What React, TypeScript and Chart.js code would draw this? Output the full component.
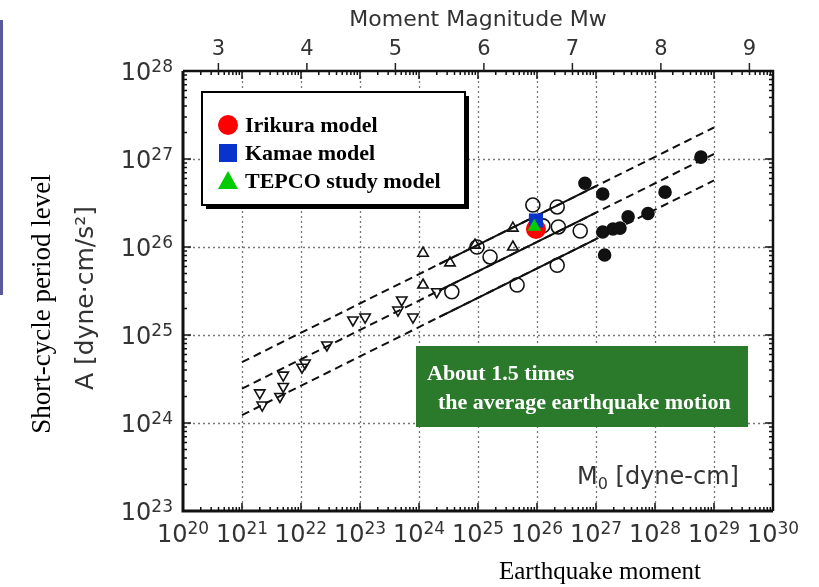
import React, { useEffect, useRef } from "react";
import { Chart, registerables } from "chart.js";

Chart.register(...registerables);

// ---- axis definitions ----
const X_EXPONENTS = [20, 21, 22, 23, 24, 25, 26, 27, 28, 29, 30];
const Y_EXPONENTS = [23, 24, 25, 26, 27, 28];
const MW_TICKS = [3, 4, 5, 6, 7, 8, 9];

// ---- data: [M0 (dyne-cm), A (dyne-cm/s^2)] ----
const downTriangles = [
  [2.0e21, 2.2e24], [2.2e21, 1.6e24], [5.0e21, 3.5e24], [5.0e21, 2.6e24],
  [4.4e21, 2.0e24], [1.04e22, 4.3e24], [1.17e22, 4.8e24], [2.75e22, 7.7e24],
  [7.6e22, 1.48e25], [1.22e23, 1.6e25], [5.1e23, 2.5e25], [4.4e23, 1.92e25],
  [7.9e23, 1.6e25], [2.0e24, 3.1e25],
];
const upTriangles = [
  [1.17e24, 8.5e25], [3.35e24, 6.6e25], [1.17e24, 3.7e25], [8.9e24, 1.05e26],
  [3.9e25, 1.0e26], [3.9e25, 1.64e26],
];
const openCircles = [
  [9.6e24, 1.0e26], [1.6e25, 7.7e25], [3.6e24, 3.1e25], [8.5e25, 3.0e26],
  [2.2e26, 2.85e26], [2.3e26, 1.69e26], [5.4e26, 1.52e26], [2.2e26, 6.2e25],
  [4.6e25, 3.7e25], [1.26e26, 1.74e26],
];
const filledCircles = [
  [6.5e26, 5.3e26], [1.3e27, 4.0e26], [1.3e27, 1.48e26], [1.94e27, 1.6e26],
  [2.55e27, 1.64e26], [3.5e27, 2.2e26], [7.6e27, 2.4e26], [1.48e28, 4.2e26],
  [6.0e28, 1.05e27], [1.4e27, 8.1e25],
];
const irikura = [[9.6e25, 1.6e26]];
const kamae = [[9.6e25, 2.0e26]];
const tepco = [[9.0e25, 1.7e26]];

// reference relation lines (end points)
const meanLine = [[1e21, 2.46e24], [1e29, 1.14e27]];
const upperLine = [[1e21, 4.92e24], [1e29, 2.28e27]];
const lowerLine = [[1e21, 1.23e24], [1e29, 5.71e26]];
const meanSolid = [[2.2e24, 3.2e25], [1e27, 2.46e26]];
const upperSolid = [[2.2e24, 6.4e25], [1e27, 4.92e26]];
const lowerSolid = [[2.2e24, 1.6e25], [1e27, 1.23e26]];

const LEGEND_ITEMS = ["Irikura model", "Kamae model", "TEPCO study model"];
const NOTE_LINES = ["About 1.5 times", "the average earthquake motion"];

const toXY = (arr: number[][]) => arr.map(([x, y]) => ({ x, y }));

const SANS = '"DejaVu Sans", sans-serif';
const SERIF = '"Liberation Serif", "Times New Roman", serif';
const AXIS_COLOR = "#333";

function drawPow(ctx: CanvasRenderingContext2D, exp: number, x: number, y: number, align: string) {
  const baseFont = `24px ${SANS}`;
  const expFont = `17px ${SANS}`;
  ctx.font = baseFont;
  const w1 = ctx.measureText("10").width;
  ctx.font = expFont;
  const w2 = ctx.measureText(String(exp)).width;
  const total = w1 + w2;
  const left = align === "center" ? x - total / 2 : x - total;
  ctx.textAlign = "left";
  ctx.textBaseline = "middle";
  ctx.font = baseFont;
  ctx.fillText("10", left, y);
  ctx.font = expFont;
  ctx.fillText(String(exp), left + w1, y - 6);
}

const decorPlugin = {
  id: "decor",
  beforeDatasetsDraw(chart: any) {
    const { ctx, chartArea: a, scales } = chart;
    const xs = scales.x;
    const ys = scales.y;
    ctx.save();
    ctx.strokeStyle = "#777";
    ctx.lineWidth = 1.3;
    ctx.setLineDash([2, 3]);
    for (const e of X_EXPONENTS.slice(1, -1)) {
      const px = Math.round(xs.getPixelForValue(Math.pow(10, e))) + 0.5;
      ctx.beginPath();
      ctx.moveTo(px, a.top);
      ctx.lineTo(px, a.bottom);
      ctx.stroke();
    }
    for (const e of Y_EXPONENTS.slice(1, -1)) {
      const py = Math.round(ys.getPixelForValue(Math.pow(10, e))) + 0.5;
      ctx.beginPath();
      ctx.moveTo(a.left, py);
      ctx.lineTo(a.right, py);
      ctx.stroke();
    }
    ctx.restore();
  },
  afterDraw(chart: any) {
    const { ctx, chartArea: a, scales } = chart;
    const xs = scales.x;
    const ys = scales.y;
    ctx.save();
    ctx.setLineDash([]);

    // frame
    ctx.strokeStyle = "#111";
    ctx.lineWidth = 3;
    ctx.beginPath();
    ctx.moveTo(a.left, a.top);
    ctx.lineTo(a.left, a.bottom);
    ctx.lineTo(a.right, a.bottom);
    ctx.stroke();
    ctx.lineWidth = 2.5;
    ctx.beginPath();
    ctx.moveTo(a.left, a.top);
    ctx.lineTo(a.right, a.top);
    ctx.lineTo(a.right, a.bottom);
    ctx.stroke();

    // minor / major ticks (inward)
    ctx.lineWidth = 1.5;
    for (let i = 0; i < X_EXPONENTS.length - 1; i++) {
      const e = X_EXPONENTS[i];
      for (let k = 1; k <= 9; k++) {
        const px = xs.getPixelForValue(k * Math.pow(10, e));
        const len = k === 1 ? 8 : 4;
        ctx.beginPath();
        ctx.moveTo(px, a.bottom);
        ctx.lineTo(px, a.bottom - len);
        ctx.moveTo(px, a.top);
        ctx.lineTo(px, a.top + len);
        ctx.stroke();
      }
    }
    for (let i = 0; i < Y_EXPONENTS.length - 1; i++) {
      const e = Y_EXPONENTS[i];
      for (let k = 1; k <= 9; k++) {
        const py = ys.getPixelForValue(k * Math.pow(10, e));
        const len = k === 1 ? 8 : 4;
        ctx.beginPath();
        ctx.moveTo(a.left, py);
        ctx.lineTo(a.left + len, py);
        ctx.moveTo(a.right, py);
        ctx.lineTo(a.right - len, py);
        ctx.stroke();
      }
    }

    // tick labels
    ctx.fillStyle = AXIS_COLOR;
    for (const e of X_EXPONENTS) {
      drawPow(ctx, e, xs.getPixelForValue(Math.pow(10, e)), a.bottom + 25, "center");
    }
    for (const e of Y_EXPONENTS) {
      drawPow(ctx, e, a.left - 10, ys.getPixelForValue(Math.pow(10, e)) + 3, "right");
    }

    // top Mw axis: Mw = (2/3)(log10 M0 - 16.1)
    ctx.strokeStyle = "#222";
    ctx.lineWidth = 1.5;
    ctx.font = `21px ${SANS}`;
    ctx.textAlign = "center";
    ctx.textBaseline = "middle";
    for (const mw of MW_TICKS) {
      const px = xs.getPixelForValue(Math.pow(10, 1.5 * mw + 16.1));
      ctx.beginPath();
      ctx.moveTo(px, a.top);
      ctx.lineTo(px, a.top - 8);
      ctx.stroke();
      ctx.fillText(String(mw), px, a.top - 21);
    }
    ctx.font = `22px ${SANS}`;
    ctx.fillText("Moment Magnitude Mw", 478, 20);

    // y-axis unit title
    ctx.save();
    ctx.translate(86, 298);
    ctx.rotate(-Math.PI / 2);
    ctx.font = `25px ${SANS}`;
    ctx.fillText("A [dyne·cm/s²]", 0, 0);
    ctx.restore();

    // M0 [dyne-cm]
    {
      const left = 577;
      const cy = 478;
      ctx.textAlign = "left";
      ctx.font = `24px ${SANS}`;
      ctx.fillText("M", left, cy);
      const wm = ctx.measureText("M").width;
      ctx.font = `16px ${SANS}`;
      ctx.fillText("0", left + wm, cy + 7);
      const w0 = ctx.measureText("0").width;
      ctx.font = `24px ${SANS}`;
      ctx.fillText(" [dyne-cm]", left + wm + w0, cy);
    }

    // serif titles
    ctx.fillStyle = "#000";
    ctx.textAlign = "center";
    ctx.font = `25px ${SERIF}`;
    ctx.fillText("Earthquake moment", 600, 572);
    ctx.save();
    ctx.translate(43, 304);
    ctx.rotate(-Math.PI / 2);
    ctx.font = `27px ${SERIF}`;
    ctx.fillText("Short-cycle period level", 0, 0);
    ctx.restore();

    // legend box
    ctx.fillStyle = "#000";
    ctx.fillRect(206, 96, 263, 113);
    ctx.fillStyle = "#fff";
    ctx.fillRect(202, 92, 263, 113);
    ctx.strokeStyle = "#000";
    ctx.lineWidth = 2;
    ctx.strokeRect(202, 92, 263, 113);

    const ly = [125, 153, 181];
    ctx.fillStyle = "#ff0000";
    ctx.beginPath();
    ctx.arc(228, ly[0], 10, 0, Math.PI * 2);
    ctx.fill();
    ctx.fillStyle = "#0a32cc";
    ctx.fillRect(219, ly[1] - 9, 18, 18);
    ctx.fillStyle = "#00cc00";
    ctx.beginPath();
    ctx.moveTo(228, ly[2] - 10);
    ctx.lineTo(238, ly[2] + 8);
    ctx.lineTo(218, ly[2] + 8);
    ctx.closePath();
    ctx.fill();

    ctx.fillStyle = "#000";
    ctx.textAlign = "left";
    ctx.textBaseline = "middle";
    ctx.font = `bold 22px ${SERIF}`;
    LEGEND_ITEMS.forEach((t, i) => ctx.fillText(t, 245, ly[i] + 1));

    // green note box
    ctx.fillStyle = "#2b792b";
    ctx.fillRect(416, 346, 332, 81);
    ctx.fillStyle = "#fff";
    ctx.font = `bold 22px ${SERIF}`;
    ctx.fillText(NOTE_LINES[0], 427, 374);
    ctx.fillText(NOTE_LINES[1], 438, 403);

    ctx.restore();
  },
};

export default function App() {
  const canvasRef = useRef<HTMLCanvasElement | null>(null);

  useEffect(() => {
    const canvas = canvasRef.current;
    if (!canvas) return;
    const lineDs = (data: number[][], dashed: boolean) => ({
      data: toXY(data),
      showLine: true,
      borderColor: "#111",
      borderWidth: 2,
      borderDash: dashed ? [8, 5] : [],
      pointRadius: 0,
      fill: false,
    });
    const pointDs = (data: number[][], style: string, opts: any) => ({
      data: toXY(data),
      showLine: false,
      pointStyle: style,
      pointBorderColor: "#111",
      pointBorderWidth: 1.6,
      ...opts,
    });

    const chart = new Chart(canvas, {
      type: "scatter",
      data: {
        datasets: [
          { ...pointDs(tepco, "triangle", { pointRadius: 8, pointBackgroundColor: "#00cc00", pointBorderColor: "#00cc00", pointBorderWidth: 0 }), order: 0 },
          { ...pointDs(kamae, "rect", { pointRadius: 10, pointBackgroundColor: "#0a32cc", pointBorderColor: "#0a32cc", pointBorderWidth: 0 }), order: 1 },
          { ...pointDs(irikura, "circle", { pointRadius: 10, pointBackgroundColor: "#ff0000", pointBorderColor: "#ff0000", pointBorderWidth: 0 }), order: 2 },
          { ...pointDs(filledCircles, "circle", { pointRadius: 6, pointBackgroundColor: "#111" }), order: 3 },
          { ...pointDs(openCircles, "circle", { pointRadius: 7, pointBackgroundColor: "rgba(255,255,255,0)" }), order: 4 },
          { ...pointDs(upTriangles, "triangle", { pointRadius: 6, pointBackgroundColor: "rgba(255,255,255,0)" }), order: 5 },
          { ...pointDs(downTriangles, "triangle", { pointRadius: 6, pointRotation: 180, pointBackgroundColor: "rgba(255,255,255,0)" }), order: 6 },
          { ...lineDs(meanSolid, false), order: 7 },
          { ...lineDs(upperSolid, false), order: 8 },
          { ...lineDs(lowerSolid, false), order: 9 },
          { ...lineDs(meanLine, true), order: 10 },
          { ...lineDs(upperLine, true), order: 11 },
          { ...lineDs(lowerLine, true), order: 12 },
        ],
      },
      options: {
        responsive: false,
        animation: false,
        layout: { padding: { left: 183, right: 46, top: 71, bottom: 76 } },
        scales: {
          x: { type: "logarithmic", min: 1e20, max: 1e30, display: false },
          y: { type: "logarithmic", min: 1e23, max: 1e28, display: false },
        },
        plugins: { legend: { display: false }, tooltip: { enabled: false } },
        events: [],
      },
      plugins: [decorPlugin],
    });
    return () => chart.destroy();
  }, []);

  return (
    <div style={{ position: "absolute", left: 0, top: 0, width: 819, height: 587, background: "#fff" }}>
      <div style={{ position: "absolute", left: 0, top: 20, width: 3, height: 275, background: "#5a5a9a" }} />
      <canvas ref={canvasRef} width={819} height={587} style={{ display: "block" }} />
    </div>
  );
}
